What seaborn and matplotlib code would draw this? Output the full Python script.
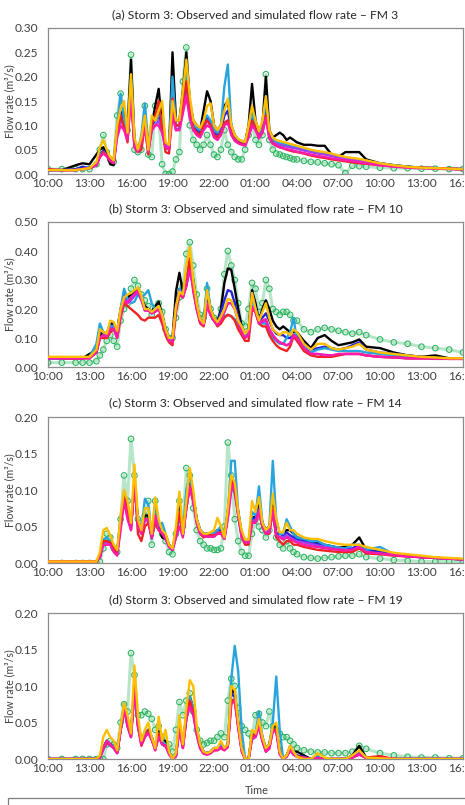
import numpy as np
import pandas as pd
import matplotlib
matplotlib.use("Agg")
import matplotlib.pyplot as plt
import matplotlib.patches as mpatches
import seaborn as sns

# ---------------- data ----------------
hours = [0, 1, 2, 2.5, 3,
         3.5, 3.75,
         4.0, 4.25, 4.5, 4.75, 5.0, 5.25, 5.5, 5.75, 6.0, 6.25, 6.5, 6.75,
         7.0, 7.25, 7.5, 7.75, 8.0, 8.25, 8.5, 8.75, 9.0, 9.25, 9.5, 9.75,
         10.0, 10.25, 10.5, 10.75, 11.0, 11.25, 11.5, 11.75, 12.0, 12.25, 12.5, 12.75,
         13.0, 13.25, 13.5, 13.75, 14.0, 14.25, 14.5, 14.75, 15.0, 15.25, 15.5, 15.75,
         16.0, 16.25, 16.5, 16.75, 17.0, 17.25, 17.5, 17.75,
         18, 18.5, 19, 19.5, 20, 20.5, 21, 21.5, 22, 22.5, 23,
         24, 25, 26, 27, 28, 29, 30]

tick_hours = [0, 3, 6, 9, 12, 15, 18, 21, 24, 27, 30]
tick_labels = ["10:00", "13:00", "16:00", "19:00", "22:00", "01:00",
               "04:00", "07:00", "10:00", "13:00", "16:00"]

titles = ["(a) Storm 3: Observed and simulated flow rate \u2013 FM 3",
          "(b) Storm 3: Observed and simulated flow rate \u2013 FM 10",
          "(c) Storm 3: Observed and simulated flow rate \u2013 FM 14",
          "(d) Storm 3: Observed and simulated flow rate \u2013 FM 19"]
y_max = [0.30, 0.50, 0.20, 0.20]
y_step = [0.05, 0.10, 0.05, 0.05]

series_names = ["Simulation 1", "Simulation 2", "Simulation 3", "Simulation 4",
                "Simulation 5", "Simulation 6", "Simulation 7"]

# ---- panel (a) FM 3 ----
a_obs = [.010, .010, .010, .010, .010,
         .020, .050,
         .080, .045, .030, .025, .120, .165, .110, .090,
         .245, .050, .045, .050, .140, .040, .035, .140,
         .120, .020, .000, .000, .005, .030, .045, .190,
         .260, .100, .070, .060, .050, .060, .080, .060,
         .040, .035, .050, .090, .060, .045, .035, .030,
         .030, .050, .080, .100, .070, .060, .080, .205,
         .070, .050, .042, .040, .037, .035, .033, .030,
         .030, .027, .025, .024, .022, .020, .018, .002, .017, .016, .015,
         .013, .012, .012, .011, .011, .010, .010]
a_s1 = [.008, .008, .018, .022, .020,
        .040, .050,
        .055, .040, .020, .018, .090, .125, .130, .090,
        .235, .070, .050, .070, .120, .050, .100, .140,
        .175, .100, .055, .050, .250, .110, .110, .170,
        .250, .150, .110, .100, .090, .130, .170, .150,
        .100, .090, .100, .140, .150, .100, .080, .070,
        .065, .065, .100, .185, .110, .085, .100, .200,
        .090, .075, .080, .085, .080, .070, .075, .070,
        .065, .060, .060, .058, .058, .040, .035, .045, .045, .045, .030,
        .022, .018, .015, .013, .012, .011, .010]
a_s2 = [.008, .008, .010, .015, .012,
        .020, .040,
        .048, .040, .028, .025, .090, .125, .110, .075,
        .190, .060, .050, .070, .110, .050, .100, .110,
        .120, .100, .060, .055, .170, .100, .100, .140,
        .175, .130, .100, .090, .085, .100, .115, .105,
        .085, .080, .090, .120, .130, .090, .075, .068,
        .065, .063, .085, .120, .100, .080, .095, .130,
        .080, .068, .065, .062, .060, .058, .057, .055,
        .053, .050, .047, .044, .042, .038, .035, .032, .030, .028, .026,
        .022, .018, .015, .013, .012, .011, .010]
a_s3 = [.008, .008, .008, .010, .012,
        .020, .040,
        .045, .040, .030, .025, .100, .165, .110, .080,
        .195, .065, .050, .080, .145, .060, .110, .110,
        .120, .120, .060, .055, .200, .100, .100, .150,
        .200, .140, .100, .095, .090, .110, .120, .110,
        .090, .085, .100, .180, .225, .100, .080, .070,
        .068, .065, .090, .125, .100, .085, .100, .150,
        .085, .070, .065, .063, .062, .060, .058, .056,
        .055, .050, .047, .044, .042, .038, .035, .032, .030, .028, .026,
        .022, .018, .015, .013, .012, .011, .010]
a_s4 = [.008, .008, .008, .010, .012,
        .018, .035,
        .045, .038, .028, .025, .080, .110, .100, .075,
        .175, .060, .050, .070, .100, .050, .090, .100,
        .110, .090, .060, .055, .130, .090, .095, .130,
        .165, .120, .090, .085, .080, .095, .110, .100,
        .080, .075, .085, .105, .110, .085, .070, .065,
        .063, .060, .080, .105, .095, .078, .090, .120,
        .078, .065, .062, .060, .058, .056, .055, .053,
        .052, .048, .045, .042, .040, .037, .034, .031, .029, .027, .025,
        .021, .017, .014, .013, .012, .011, .010]
a_s5 = [.010, .008, .008, .010, .012,
        .018, .035,
        .045, .038, .028, .025, .090, .120, .095, .065,
        .170, .055, .045, .050, .100, .040, .100, .120,
        .150, .090, .045, .042, .155, .100, .100, .150,
        .190, .130, .095, .085, .080, .100, .110, .100,
        .080, .075, .085, .105, .110, .085, .070, .065,
        .062, .060, .080, .110, .095, .075, .085, .120,
        .075, .063, .058, .055, .053, .050, .048, .046,
        .045, .042, .038, .035, .033, .030, .028, .026, .024, .022, .021,
        .018, .016, .014, .013, .012, .011, .010]
a_s6 = [.008, .008, .008, .010, .012,
        .018, .035,
        .042, .036, .026, .022, .075, .100, .090, .070,
        .160, .055, .045, .065, .095, .045, .090, .100,
        .100, .085, .055, .050, .120, .090, .090, .125,
        .160, .115, .090, .080, .075, .090, .100, .095,
        .075, .070, .080, .100, .105, .080, .068, .063,
        .060, .058, .075, .100, .090, .073, .085, .115,
        .073, .062, .058, .055, .053, .051, .050, .048,
        .046, .043, .040, .037, .035, .032, .030, .028, .026, .024, .022,
        .018, .015, .013, .012, .011, .010, .009]
a_s7 = [.008, .008, .008, .010, .012,
        .025, .055,
        .070, .050, .035, .028, .100, .135, .150, .085,
        .205, .075, .050, .075, .120, .050, .120, .110,
        .130, .150, .065, .060, .150, .110, .110, .170,
        .235, .160, .110, .100, .095, .110, .140, .145,
        .100, .090, .100, .130, .155, .100, .080, .072,
        .068, .066, .100, .140, .110, .088, .110, .160,
        .090, .075, .070, .068, .066, .064, .062, .060,
        .058, .054, .050, .047, .045, .042, .038, .035, .033, .031, .028,
        .022, .018, .015, .013, .012, .011, .010]

# ---- panel (b) FM 10 ----
b_obs = [.015, .015, .015, .015, .015,
         .020, .040,
         .060, .090, .110, .090, .070, .160, .200, .220,
         .270, .300, .280, .250, .230, .210, .180, .200,
         .220, .190, .130, .100, .100, .170, .240, .280,
         .390, .430, .350, .250, .180, .170, .270, .200,
         .170, .160, .200, .320, .400, .350, .300, .220,
         .150, .140, .200, .290, .270, .190, .220, .300,
         .270, .200, .190, .180, .190, .190, .180, .160,
         .160, .130, .120, .130, .135, .130, .125, .120, .115, .120, .110,
         .095, .085, .080, .070, .065, .060, .050]
b_s1 = [.030, .030, .030, .030, .045,
        .060, .110,
        .120, .115, .150, .150, .125, .200, .250, .240,
        .250, .260, .270, .240, .210, .200, .190, .210,
        .225, .180, .130, .100, .100, .260, .325, .260,
        .300, .370, .300, .220, .160, .150, .270, .200,
        .170, .155, .200, .290, .340, .335, .270, .200,
        .140, .115, .130, .265, .220, .160, .200, .230,
        .200, .160, .140, .130, .140, .130, .120, .120,
        .120, .090, .065, .100, .110, .090, .075, .080, .085, .095, .070,
        .065, .050, .040, .035, .040, .030, .030]
b_s2 = [.030, .030, .030, .030, .035,
        .060, .120,
        .120, .110, .145, .145, .120, .190, .250, .230,
        .240, .255, .255, .235, .200, .200, .190, .200,
        .210, .175, .125, .095, .095, .210, .270, .250,
        .290, .365, .290, .210, .160, .150, .250, .190,
        .165, .150, .190, .230, .265, .260, .220, .170,
        .135, .110, .125, .255, .200, .160, .170, .185,
        .160, .130, .115, .110, .110, .100, .100, .110,
        .110, .075, .060, .065, .070, .065, .060, .065, .075, .085, .060,
        .050, .045, .040, .035, .030, .030, .030]
b_s3 = [.030, .030, .030, .030, .035,
        .080, .150,
        .120, .110, .140, .140, .120, .200, .270, .235,
        .220, .225, .250, .240, .250, .265, .220, .200,
        .210, .180, .130, .100, .095, .200, .270, .240,
        .290, .360, .280, .210, .160, .150, .290, .200,
        .165, .150, .170, .175, .180, .175, .165, .140,
        .135, .110, .125, .240, .200, .155, .150, .150,
        .120, .100, .090, .080, .080, .100, .120, .170,
        .090, .070, .050, .060, .065, .060, .055, .055, .055, .055, .050,
        .045, .040, .035, .033, .030, .030, .030]
b_s4 = [.030, .030, .030, .030, .035,
        .050, .100,
        .110, .105, .135, .135, .110, .180, .240, .220,
        .230, .245, .255, .230, .195, .195, .185, .195,
        .200, .170, .120, .090, .090, .200, .260, .240,
        .280, .340, .280, .200, .155, .145, .220, .180,
        .160, .145, .165, .190, .220, .220, .200, .160,
        .120, .100, .115, .210, .190, .150, .155, .160,
        .130, .110, .095, .085, .080, .075, .080, .110,
        .100, .065, .045, .045, .042, .040, .042, .045, .045, .045, .040,
        .035, .033, .030, .030, .028, .028, .028]
b_s5 = [.035, .030, .030, .030, .030,
        .050, .100,
        .100, .100, .120, .130, .100, .170, .220, .210,
        .200, .190, .180, .165, .160, .170, .170, .170,
        .180, .150, .110, .085, .075, .190, .250, .240,
        .280, .375, .260, .200, .150, .140, .210, .180,
        .160, .140, .150, .170, .180, .175, .160, .130,
        .110, .090, .090, .200, .190, .150, .140, .140,
        .110, .090, .075, .065, .060, .055, .070, .105,
        .090, .055, .040, .035, .035, .035, .040, .045, .045, .045, .040,
        .035, .033, .030, .030, .030, .028, .028]
b_s6 = [.030, .030, .030, .030, .030,
        .050, .100,
        .110, .105, .130, .130, .100, .180, .230, .220,
        .240, .250, .265, .235, .195, .195, .185, .190,
        .200, .170, .120, .090, .085, .200, .260, .240,
        .280, .335, .270, .200, .155, .145, .215, .180,
        .160, .145, .160, .190, .220, .220, .200, .160,
        .120, .100, .110, .205, .190, .150, .160, .165,
        .130, .110, .095, .085, .080, .075, .080, .110,
        .100, .065, .045, .045, .040, .040, .045, .045, .045, .045, .040,
        .035, .033, .030, .030, .030, .028, .028]
b_s7 = [.035, .035, .035, .035, .035,
        .060, .130,
        .120, .115, .160, .155, .125, .200, .240, .250,
        .255, .265, .275, .245, .200, .200, .190, .200,
        .210, .180, .130, .100, .100, .210, .260, .250,
        .350, .415, .300, .220, .165, .150, .265, .200,
        .170, .155, .175, .200, .235, .230, .200, .160,
        .140, .115, .130, .255, .200, .160, .190, .220,
        .170, .130, .120, .110, .120, .120, .110, .130,
        .120, .080, .060, .080, .080, .065, .060, .065, .070, .080, .060,
        .050, .045, .040, .035, .033, .030, .030]

# ---- panel (c) FM 14 ----
c_obs = [.000, .000, .000, .000, .000,
         .000, .002,
         .020, .040, .035, .020, .015, .060, .120, .085,
         .170, .120, .060, .045, .065, .085, .025, .085,
         .050, .040, .030, .015, .012, .040, .085, .050,
         .130, .120, .075, .045, .030, .025, .020, .020,
         .018, .018, .020, .050, .165, .120, .060, .030,
         .015, .010, .010, .040, .060, .050, .045, .035,
         .045, .075, .035, .025, .020, .030, .020, .015,
         .012, .008, .007, .006, .007, .008, .009, .010, .010, .012, .008,
         .006, .004, .003, .002, .002, .002, .002]
c_s1 = [.002, .002, .002, .002, .002,
        .002, .008,
        .030, .030, .028, .022, .015, .060, .090, .080,
        .050, .110, .060, .045, .065, .065, .035, .060,
        .050, .035, .033, .025, .020, .040, .085, .040,
        .080, .110, .090, .060, .045, .040, .040, .040,
        .040, .045, .045, .035, .070, .115, .100, .070,
        .040, .030, .030, .060, .065, .085, .055, .045,
        .050, .080, .040, .040, .040, .045, .045, .040,
        .035, .033, .030, .028, .025, .023, .021, .022, .025, .035, .018,
        .015, .012, .010, .008, .007, .006, .005]
c_s2 = [.002, .002, .002, .002, .002,
        .002, .008,
        .030, .030, .028, .022, .015, .055, .090, .075,
        .050, .110, .055, .042, .060, .060, .035, .060,
        .048, .045, .038, .025, .020, .040, .070, .040,
        .080, .110, .090, .060, .045, .040, .038, .038,
        .038, .045, .045, .035, .070, .115, .100, .070,
        .040, .030, .030, .060, .062, .075, .055, .045,
        .050, .070, .040, .040, .038, .042, .038, .035,
        .032, .030, .028, .026, .024, .022, .020, .019, .020, .025, .017,
        .015, .012, .010, .008, .007, .006, .005]
c_s3 = [.002, .002, .002, .002, .002,
        .002, .010,
        .032, .035, .030, .025, .015, .060, .095, .080,
        .050, .110, .060, .045, .088, .080, .035, .080,
        .050, .055, .040, .025, .020, .040, .070, .040,
        .100, .120, .090, .060, .045, .040, .040, .040,
        .040, .045, .050, .035, .070, .140, .140, .070,
        .040, .030, .030, .070, .065, .105, .055, .045,
        .050, .140, .060, .040, .040, .060, .050, .040,
        .035, .033, .030, .030, .025, .023, .021, .020, .025, .025, .018,
        .022, .012, .010, .008, .007, .006, .005]
c_s4 = [.002, .002, .002, .002, .002,
        .002, .008,
        .028, .028, .026, .020, .014, .050, .085, .070,
        .048, .110, .055, .040, .058, .058, .033, .062,
        .046, .040, .035, .022, .018, .035, .065, .038,
        .075, .105, .085, .058, .042, .038, .036, .036,
        .036, .042, .042, .033, .065, .105, .095, .065,
        .038, .028, .028, .058, .058, .072, .050, .042,
        .045, .070, .038, .036, .035, .038, .035, .032,
        .030, .028, .026, .024, .022, .020, .019, .018, .018, .022, .015,
        .013, .011, .009, .008, .007, .006, .005]
c_s5 = [.002, .002, .002, .002, .002,
        .002, .008,
        .030, .030, .028, .020, .012, .055, .090, .075,
        .045, .115, .040, .030, .050, .055, .035, .055,
        .045, .040, .035, .025, .018, .040, .070, .040,
        .075, .105, .085, .055, .040, .035, .038, .038,
        .038, .040, .042, .033, .065, .115, .100, .065,
        .035, .025, .025, .055, .055, .070, .050, .040,
        .040, .075, .035, .030, .025, .030, .030, .025,
        .025, .022, .020, .018, .017, .016, .015, .015, .015, .020, .013,
        .012, .010, .009, .008, .007, .006, .005]
c_s6 = [.002, .002, .002, .002, .002,
        .002, .008,
        .025, .025, .025, .015, .010, .045, .085, .060,
        .045, .115, .050, .040, .060, .060, .035, .065,
        .045, .040, .033, .022, .018, .035, .050, .035,
        .075, .105, .085, .055, .040, .038, .036, .036,
        .036, .040, .040, .033, .060, .100, .110, .065,
        .035, .028, .028, .055, .055, .070, .050, .040,
        .042, .070, .038, .035, .032, .035, .033, .030,
        .028, .025, .023, .022, .020, .019, .018, .017, .018, .022, .015,
        .013, .011, .009, .008, .007, .006, .005]
c_s7 = [.002, .002, .002, .002, .002,
        .002, .015,
        .045, .048, .038, .025, .018, .065, .100, .085,
        .055, .135, .060, .045, .075, .075, .040, .090,
        .060, .045, .040, .025, .020, .050, .098, .040,
        .085, .130, .100, .060, .045, .040, .040, .042,
        .045, .062, .050, .035, .075, .120, .110, .070,
        .045, .032, .032, .085, .070, .090, .055, .045,
        .050, .095, .060, .042, .042, .055, .045, .045,
        .040, .035, .033, .033, .030, .028, .026, .025, .025, .025, .022,
        .018, .014, .012, .010, .008, .007, .006]

# ---- panel (d) FM 19 ----
d_obs = [.000, .000, .000, .000, .000,
         .000, .000,
         .000, .020, .025, .020, .015, .050, .075, .065,
         .145, .115, .060, .060, .065, .062, .055, .040,
         .045, .030, .020, .020, .010, .040, .078, .060,
         .080, .090, .065, .040, .025, .020, .022, .025,
         .025, .030, .035, .030, .080, .110, .100, .070,
         .045, .040, .035, .030, .060, .062, .050, .045,
         .065, .045, .040, .035, .030, .030, .025, .020,
         .015, .012, .010, .009, .009, .008, .008, .008, .010, .018, .014,
         .008, .005, .003, .002, .002, .001, .001]
d_s1 = [.000, .000, .000, .000, .000,
        .000, .002,
        .015, .025, .020, .018, .010, .040, .070, .050,
        .035, .105, .050, .025, .035, .040, .030, .015,
        .038, .025, .025, .010, .000, .005, .050, .020,
        .060, .085, .070, .040, .020, .010, .008, .010,
        .015, .015, .020, .015, .020, .095, .090, .050,
        .015, .000, .000, .035, .035, .055, .030, .015,
        .020, .045, .045, .010, .000, .005, .015, .010,
        .010, .005, .000, .002, .000, .000, .000, .000, .005, .018, .002,
        .001, .000, .000, .000, .000, .000, .000]
d_s2 = [.000, .000, .000, .000, .000,
        .000, .002,
        .015, .022, .020, .015, .010, .040, .070, .048,
        .033, .095, .048, .025, .033, .038, .028, .015,
        .035, .022, .020, .010, .000, .005, .045, .018,
        .058, .080, .068, .038, .018, .010, .008, .010,
        .014, .014, .018, .014, .020, .090, .085, .048,
        .014, .000, .000, .033, .033, .050, .028, .014,
        .018, .040, .040, .010, .000, .004, .014, .008,
        .005, .003, .000, .002, .000, .000, .000, .000, .003, .010, .002,
        .001, .000, .000, .000, .000, .000, .000]
d_s3 = [.000, .000, .000, .000, .000,
        .000, .002,
        .015, .025, .020, .018, .010, .040, .078, .050,
        .035, .090, .050, .025, .035, .040, .030, .015,
        .035, .025, .020, .010, .000, .005, .045, .020,
        .060, .085, .070, .040, .020, .010, .008, .010,
        .015, .015, .020, .015, .020, .110, .155, .120,
        .040, .000, .000, .035, .035, .065, .030, .015,
        .020, .050, .113, .040, .000, .005, .015, .010,
        .003, .002, .000, .002, .000, .000, .000, .000, .002, .008, .002,
        .001, .000, .000, .000, .000, .000, .000]
d_s4 = [.000, .000, .000, .000, .000,
        .000, .002,
        .013, .022, .018, .015, .008, .038, .068, .045,
        .030, .095, .045, .022, .030, .036, .026, .014,
        .032, .020, .018, .008, .000, .004, .042, .016,
        .055, .075, .065, .035, .016, .008, .007, .009,
        .013, .013, .017, .013, .018, .080, .082, .045,
        .012, .000, .000, .030, .030, .045, .026, .012,
        .016, .040, .038, .008, .000, .003, .012, .006,
        .003, .002, .000, .001, .000, .000, .000, .000, .002, .008, .001,
        .001, .000, .000, .000, .000, .000, .000]
d_s5 = [.000, .000, .000, .000, .000,
        .000, .002,
        .015, .022, .020, .015, .008, .040, .072, .045,
        .030, .100, .045, .018, .030, .040, .028, .012,
        .035, .020, .018, .008, .000, .005, .045, .015,
        .055, .080, .065, .035, .015, .008, .006, .008,
        .012, .012, .015, .012, .018, .080, .080, .045,
        .012, .000, .000, .030, .035, .045, .025, .010,
        .015, .040, .040, .008, .000, .004, .018, .008,
        .004, .002, .000, .001, .000, .000, .000, .000, .002, .006, .002,
        .004, .000, .000, .000, .000, .000, .000]
d_s6 = [.000, .000, .000, .000, .000,
        .000, .002,
        .015, .025, .020, .015, .008, .040, .070, .045,
        .030, .095, .045, .020, .030, .036, .026, .012,
        .030, .020, .018, .006, .000, .003, .040, .015,
        .055, .072, .060, .033, .014, .007, .006, .008,
        .012, .012, .015, .012, .016, .075, .080, .042,
        .010, .000, .000, .028, .030, .045, .024, .010,
        .014, .038, .038, .006, .000, .003, .012, .006,
        .003, .001, .000, .001, .000, .000, .000, .000, .002, .006, .001,
        .001, .000, .000, .000, .000, .000, .000]
d_s7 = [.000, .000, .000, .000, .000,
        .000, .005,
        .030, .040, .030, .025, .012, .045, .077, .060,
        .035, .128, .060, .025, .040, .050, .030, .015,
        .058, .025, .040, .010, .000, .008, .060, .020,
        .070, .108, .100, .045, .020, .010, .008, .010,
        .015, .015, .025, .015, .020, .100, .095, .050,
        .015, .000, .000, .040, .035, .055, .030, .015,
        .020, .045, .050, .010, .000, .005, .018, .010,
        .003, .000, .000, .008, .002, .000, .000, .000, .005, .012, .002,
        .001, .000, .000, .000, .000, .000, .000]

panel_obs = [a_obs, b_obs, c_obs, d_obs]
panel_sims = [[a_s1, a_s2, a_s3, a_s4, a_s5, a_s6, a_s7],
              [b_s1, b_s2, b_s3, b_s4, b_s5, b_s6, b_s7],
              [c_s1, c_s2, c_s3, c_s4, c_s5, c_s6, c_s7],
              [d_s1, d_s2, d_s3, d_s4, d_s5, d_s6, d_s7]]

# ---------------- style ----------------
sim_colors = ["#000000", "#2626d9", "#27a4de", "#a040f0",
              "#ee2424", "#ff1aa8", "#ffbf00"]
OBS_GREEN = "#2fb562"
FRAME = "#8c8c8c"
TXT = "#404040"

sns.set_theme(style="white")
plt.rcParams["font.family"] = ["Lato", "DejaVu Sans"]

W, H = 465, 805
fig = plt.figure(figsize=(W / 100, H / 100), dpi=100)

ax_left = 48 / W
ax_width = (463 - 48) / W
axes_tops = [28, 222, 417, 613]
axes_bots = [174, 367, 563, 759]
title_y = [15, 209, 403, 600]

for i in range(4):
    top, bot = axes_tops[i], axes_bots[i]
    ax = fig.add_axes([ax_left, 1 - bot / H, ax_width, (bot - top) / H])

    obs_df = pd.DataFrame({"hour": hours, "flow": panel_obs[i]})
    # faint band standing in for the densely overlapping observed circles
    sns.lineplot(data=obs_df, x="hour", y="flow", ax=ax, color=OBS_GREEN,
                 linewidth=2.2, alpha=0.35, estimator=None, zorder=1.5)
    sns.scatterplot(data=obs_df, x="hour", y="flow", ax=ax, marker="o", s=16,
                    facecolor="none", edgecolor=OBS_GREEN, linewidth=0.8,
                    zorder=2, legend=False)

    frames = []
    for name, vals in zip(series_names, panel_sims[i]):
        frames.append(pd.DataFrame({"hour": hours, "flow": vals, "series": name}))
    line_df = pd.concat(frames, ignore_index=True)
    sns.lineplot(data=line_df, x="hour", y="flow", hue="series",
                 hue_order=series_names, palette=sim_colors, linewidth=1.7,
                 estimator=None, legend=False, ax=ax, zorder=3)

    ax.set_xlim(0, 30)
    ax.set_ylim(0, y_max[i])
    ax.set_xticks(tick_hours)
    ax.set_xticklabels(tick_labels)
    yt = np.round(np.arange(0, y_max[i] + 1e-9, y_step[i]), 2)
    ax.set_yticks(yt)
    ax.set_yticklabels([f"{v:.2f}" for v in yt])
    ax.set_xlabel("")
    ax.set_ylabel("")
    ax.grid(False)
    for sp in ax.spines.values():
        sp.set_visible(True)
        sp.set_color(FRAME)
        sp.set_linewidth(0.9)
    ax.tick_params(axis="x", direction="in", length=3, width=0.8, color=FRAME,
                   pad=3, labelsize=8.6, labelcolor=TXT)
    ax.tick_params(axis="y", direction="in", length=2.5, width=0.8, color=FRAME,
                   pad=7, labelsize=8.6, labelcolor=TXT)

    fig.text((48 + 463) / 2 / W, 1 - title_y[i] / H, titles[i], ha="center",
             va="center", fontsize=8.7, color="#262626")
    fig.text(10 / W, 1 - (top + bot) / 2 / H, "Flow rate (m\u00b3/s)",
             rotation=90, ha="center", va="center", fontsize=7.6, color=TXT)

fig.text(257 / W, 1 - 790 / H, "Time", ha="center", va="center",
         fontsize=7.8, color=TXT)

# legend frame (cut off at the bottom of the figure)
fig.patches.append(mpatches.Rectangle((8 / W, -0.02), (470 - 8) / W, 0.02 + 1 - 798 / H,
                                      transform=fig.transFigure, fill=False,
                                      edgecolor="#7f7f7f", linewidth=0.9))

fig.savefig("out.png", dpi=100)
